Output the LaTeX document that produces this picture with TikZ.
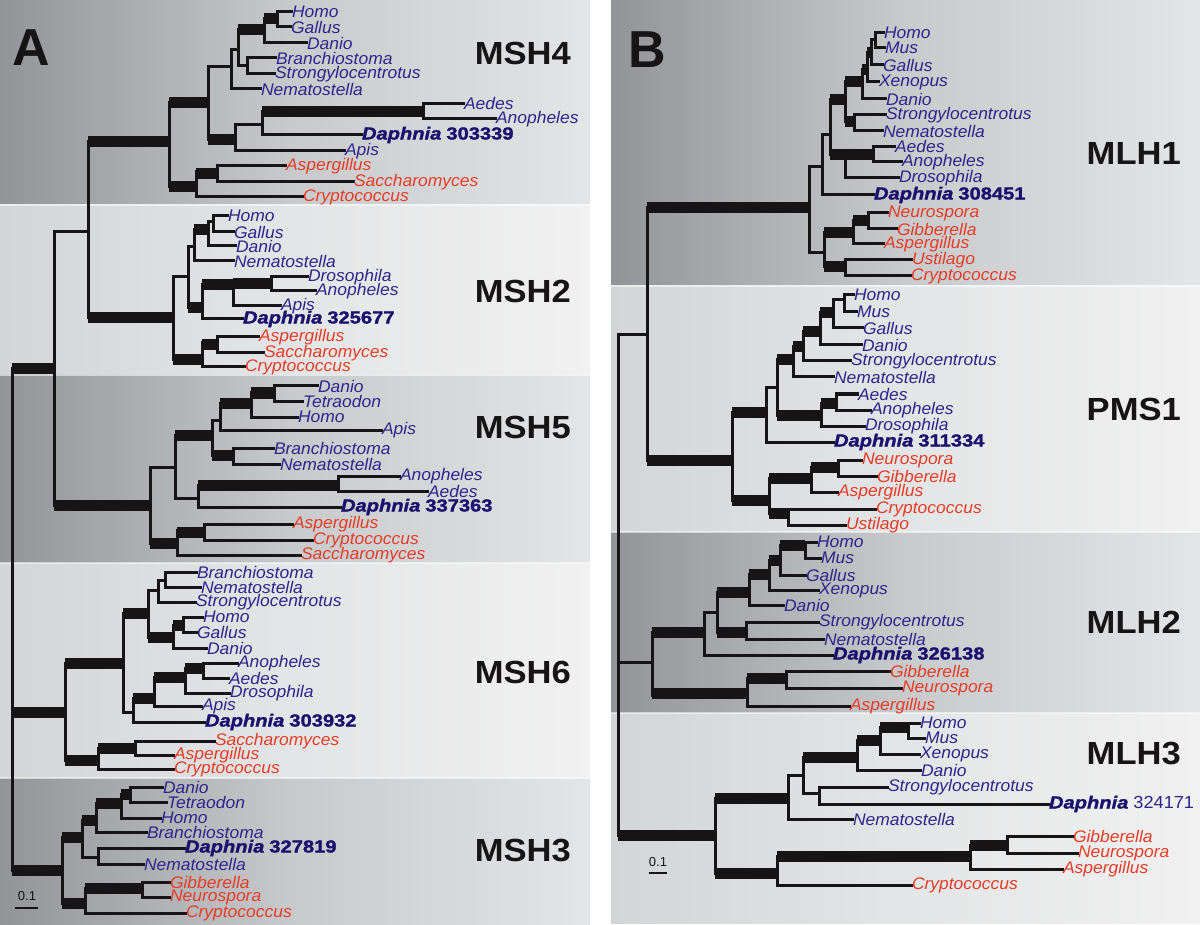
\documentclass[tikz,border=0pt]{standalone}
\usepackage{fontspec}
\setmainfont{Liberation Sans}
\newfontfamily\labfam[FakeStretch=1.04]{Liberation Sans}
\newfontfamily\dapfam[FakeStretch=1.15,FakeBold=1.5]{Liberation Sans}
\newfontfamily\cladefam[FakeStretch=1.08]{Liberation Sans}
\definecolor{blu}{RGB}{48,36,140}
\definecolor{dblu}{RGB}{28,16,110}
\definecolor{fred}{RGB}{232,60,40}
\definecolor{ink}{RGB}{22,20,20}
\definecolor{dkL}{RGB}{146,148,151}
\definecolor{dkM}{RGB}{200,202,204}
\definecolor{dkR}{RGB}{228,229,230}
\definecolor{ltL}{RGB}{212,213,215}
\definecolor{ltM}{RGB}{228,229,230}
\definecolor{ltR}{RGB}{241,241,241}
\tikzset{
 tn/.style={draw=ink,line width=3pt,line cap=rect},
 tk/.style={draw=ink,line width=11pt},
 lab/.style={anchor=west,inner sep=0.8pt,font=\labfam\itshape\fontsize{16.8}{16.8}\selectfont},
 an/.style={lab,text=blu},
 fg/.style={lab,text=fred},
 dp/.style={anchor=west,inner sep=0.8pt,text=dblu,font=\dapfam\fontsize{17.5}{17.5}\selectfont},
 clade/.style={anchor=east,inner sep=0pt,text=ink,font=\cladefam\bfseries\fontsize{32}{32}\selectfont},
 panel/.style={inner sep=0pt,text=ink,font=\bfseries\fontsize{52}{52}\selectfont},
 scl/.style={inner sep=0pt,text=ink,font=\fontsize{13}{13}\selectfont},
 darkband/.style={left color=dkL,right color=dkR,middle color=dkM},
 lightband/.style={left color=ltL,right color=ltR,middle color=ltM},
 sep/.style={draw=white,line width=1.5pt,opacity=0.55},
}
\newcommand\trV[3]{\draw[tn] (#1,#2) -- (#1,#3);}
\newcommand\trH[4][tn]{\draw[#1] (#2,#4) -- (#3,#4);}
\newcommand\trL[6][an]{\node[#1] (#2) at (#5,#4) {#6}; \draw[tn] (#3,#4) -- (#2.west);}
\newcommand\dap[1]{{\bfseries\itshape Daphnia}\hspace{5pt}{\bfseries #1}}
\newcommand\dapr[1]{{\bfseries\itshape Daphnia}\hspace{5pt}{\labfam\color{blu}#1}}
\begin{document}
\begin{tikzpicture}[x=1pt,y=-1pt]
\useasboundingbox (0,0) rectangle (1200,925);
\fill[white] (0,0) rectangle (1200,925);
% panel A bands
\shade[darkband] (0,0) rectangle (590,205);
\shade[lightband] (0,205) rectangle (590,375);
\shade[darkband] (0,375) rectangle (590,563);
\shade[lightband] (0,563) rectangle (590,778);
\shade[darkband] (0,778) rectangle (590,925);
% panel B bands
\shade[darkband] (611,1) rectangle (1200,286);
\shade[lightband] (611,286) rectangle (1200,532);
\shade[darkband] (611,532) rectangle (1200,713);
\shade[lightband] (611,713) rectangle (1200,923);
\foreach \yy in {205,375,563,778} {\draw[sep] (0,\yy) -- (590,\yy);}
\foreach \yy in {286,532,713} {\draw[sep] (611,\yy) -- (1200,\yy);}

% labels
\node[panel] (pA) at (31,48) {A};
\node[panel] (pB) at (647,50) {B};
\node[clade] (cMSH4) at (571,53) {MSH4};
\node[clade] (cMSH2) at (571,291) {MSH2};
\node[clade] (cMSH5) at (571,427) {MSH5};
\node[clade] (cMSH6) at (571,672) {MSH6};
\node[clade] (cMSH3) at (571,851) {MSH3};
\node[clade] (cMLH1) at (1181,153) {MLH1};
\node[clade] (cPMS1) at (1181,409) {PMS1};
\node[clade] (cMLH2) at (1181,622) {MLH2};
\node[clade] (cMLH3) at (1181,754) {MLH3};
\node[scl] (sA) at (27,896) {0.1};
\draw[ink,line width=1.2pt] (15,908) -- (38,908);
\node[scl] (sB) at (658,862) {0.1};
\draw[ink,line width=1.2pt] (649,873) -- (667,873);

% ===== Panel A backbone
\trV{12}{369}{870}
\trH[tk]{12}{54}{369}
\trH[tk]{12}{65}{712}
\trH[tk]{12}{62}{870}
\trV{54}{232}{505}
\trH{54}{88}{232}
\trH[tk]{54}{150}{505}
\trV{88}{142}{318}
\trH[tk]{88}{169}{142}
\trH[tk]{88}{173}{318}

% ===== MSH4
\trV{169}{103}{187}
\trH[tk]{169}{208}{103}
\trH[tk]{169}{196}{187}
\trV{208}{67}{140}
\trH{208}{231}{67}
\trH[tk]{208}{235}{140}
\trV{231}{50}{89}
\trH{231}{238}{50}
\trL[an]{m4nem}{231}{89}{260}{Nematostella}
\trV{238}{30}{66}
\trH[tk]{238}{264}{30}
\trH{238}{247}{66}
\trV{264}{19}{43}
\trH[tk]{264}{277}{19}
\trL[an]{m4dan}{264}{43}{306}{Danio}
\trV{277}{12}{27}
\trL[an]{m4hom}{277}{12}{291}{Homo}
\trL[an]{m4gal}{277}{27}{290}{Gallus}
\trV{247}{58}{74}
\trL[an]{m4bra}{247}{58}{275}{Branchiostoma}
\trL[an]{m4str}{247}{74}{274}{Strongylocentrotus}
\trV{235}{125}{151}
\trH{235}{262}{125}
\trL[an]{m4api}{235}{151}{344}{Apis}
\trV{262}{112}{135}
\trH[tk]{262}{423}{112}
\trL[dp]{m4dap}{262}{135}{361}{\dap{303339}}
\trV{423}{104}{119}
\trL[an]{m4aed}{423}{104}{463}{Aedes}
\trL[an]{m4ano}{423}{119}{495}{Anopheles}
\trV{196}{172}{197}
\trH[tk]{196}{217}{174}
\trL[fg]{m4cry}{196}{197}{302}{Cryptococcus}
\trV{217}{166}{182}
\trL[fg]{m4asp}{217}{166}{285}{Aspergillus}
\trL[fg]{m4sac}{217}{182}{353}{Saccharomyces}

% ===== MSH2
\trV{173}{277}{360}
\trH{173}{188}{277}
\trH[tk]{173}{202}{360}
\trV{188}{247}{308}
\trH{188}{194}{247}
\trH[tk]{188}{202}{308}
\trV{194}{230}{261}
\trH[tk]{194}{208}{230}
\trL[an]{m2nem}{194}{261}{233}{Nematostella}
\trV{208}{222}{246}
\trH{208}{213}{222}
\trL[an]{m2dan}{208}{246}{235}{Danio}
\trV{213}{216}{232}
\trL[an]{m2hom}{213}{216}{227}{Homo}
\trL[an]{m2gal}{213}{232}{233}{Gallus}
\trV{202}{285}{319}
\trH[tk]{202}{233}{285}
\trL[dp]{m2dap}{202}{319}{242}{\dap{325677}}
\trV{233}{284}{306}
\trH[tk]{233}{271}{284}
\trL[an]{m2api}{233}{306}{280}{Apis}
\trV{271}{277}{291}
\trL[an]{m2dro}{271}{277}{307}{Drosophila}
\trL[an]{m2ano}{271}{291}{315}{Anopheles}
\trV{202}{343}{367}
\trH[tk]{202}{217}{345}
\trL[fg]{m2cry}{202}{367}{244}{Cryptococcus}
\trV{217}{337}{353}
\trL[fg]{m2asp}{217}{337}{258}{Aspergillus}
\trL[fg]{m2sac}{217}{353}{263}{Saccharomyces}

% ===== MSH5
\trV{150}{467}{543}
\trH{150}{175}{467}
\trH[tk]{150}{177}{543}
\trV{175}{435}{498}
\trH[tk]{175}{212}{435}
\trH{175}{198}{498}
\trV{212}{420}{455}
\trH{212}{220}{420}
\trH[tk]{212}{233}{455}
\trV{220}{403}{430}
\trH[tk]{220}{251}{403}
\trL[an]{m5api}{220}{430}{381}{Apis}
\trV{251}{393}{417}
\trH[tk]{251}{274}{393}
\trL[an]{m5hom}{251}{417}{297}{Homo}
\trV{274}{386}{401}
\trL[an]{m5dan}{274}{386}{317}{Danio}
\trL[an]{m5tet}{274}{401}{302}{Tetraodon}
\trV{233}{448}{464}
\trL[an]{m5bra}{233}{448}{273}{Branchiostoma}
\trL[an]{m5nem}{233}{464}{279}{Nematostella}
\trV{198}{485}{507}
\trH[tk]{198}{338}{485}
\trL[dp]{m5dap}{198}{507}{340}{\dap{337363}}
\trV{338}{476}{491}
\trL[an]{m5ano}{338}{476}{399}{Anopheles}
\trL[an]{m5aed}{338}{491}{427}{Aedes}
\trV{177}{530}{555}
\trH[tk]{177}{204}{532}
\trL[fg]{m5sac}{177}{555}{300}{Saccharomyces}
\trV{204}{524}{540}
\trL[fg]{m5asp}{204}{524}{292}{Aspergillus}
\trL[fg]{m5cry}{204}{540}{312}{Cryptococcus}

% ===== MSH6
\trV{65}{663}{760}
\trH[tk]{65}{123}{663}
\trH[tk]{65}{98}{760}
\trV{123}{613}{712}
\trH[tk]{123}{148}{613}
\trH{123}{133}{712}
\trV{148}{590}{637}
\trH{148}{158}{590}
\trH[tk]{148}{173}{637}
\trV{158}{580}{602}
\trH{158}{165}{580}
\trL[an]{m6str}{158}{602}{195}{Strongylocentrotus}
\trV{165}{572}{587}
\trL[an]{m6bra}{165}{572}{196}{Branchiostoma}
\trL[an]{m6nem}{165}{587}{200}{Nematostella}
\trV{173}{625}{648}
\trH[tk]{173}{183}{625}
\trL[an]{m6dan}{173}{648}{206}{Danio}
\trV{183}{617}{632}
\trL[an]{m6hom}{183}{617}{202}{Homo}
\trL[an]{m6gal}{183}{632}{196}{Gallus}
\trV{133}{698}{722}
\trH[tk]{133}{154}{698}
\trL[dp]{m6dap}{133}{722}{204}{\dap{303932}}
\trV{154}{677}{706}
\trH[tk]{154}{185}{677}
\trL[an]{m6api}{154}{706}{201}{Apis}
\trV{185}{668}{693}
\trH[tk]{185}{203}{668}
\trL[an]{m6dro}{185}{693}{229}{Drosophila}
\trV{203}{663}{678}
\trL[an]{m6ano}{203}{663}{237}{Anopheles}
\trL[an]{m6aed}{203}{678}{228}{Aedes}
\trV{98}{748}{769}
\trH[tk]{98}{135}{748}
\trL[fg]{m6cry}{98}{769}{173}{Cryptococcus}
\trV{135}{741}{755}
\trL[fg]{m6sac}{135}{741}{214}{Saccharomyces}
\trL[fg]{m6asp}{135}{755}{173}{Aspergillus}

% ===== MSH3
\trV{62}{837}{903}
\trH[tk]{62}{82}{837}
\trH[tk]{62}{85}{903}
\trV{82}{820}{857}
\trH[tk]{82}{96}{820}
\trH{82}{98}{857}
\trV{96}{803}{832}
\trH[tk]{96}{121}{803}
\trL[an]{m3bra}{96}{832}{146}{Branchiostoma}
\trV{121}{794}{818}
\trH[tk]{121}{130}{794}
\trL[an]{m3hom}{121}{818}{160}{Homo}
\trV{130}{787}{802}
\trL[an]{m3dan}{130}{787}{162}{Danio}
\trL[an]{m3tet}{130}{802}{166}{Tetraodon}
\trV{98}{848}{864}
\trL[dp]{m3dap}{98}{848}{184}{\dap{327819}}
\trL[an]{m3nem}{98}{864}{143}{Nematostella}
\trV{85}{888}{913}
\trH[tk]{85}{142}{888}
\trL[fg]{m3cry}{85}{913}{185}{Cryptococcus}
\trV{142}{882}{897}
\trL[fg]{m3gib}{142}{882}{169}{Gibberella}
\trL[fg]{m3neu}{142}{897}{169}{Neurospora}

% ===== Panel B backbone
\trV{618}{335}{835}
\trH{618}{647}{335}
\trH{618}{652}{662}
\trH[tk]{618}{715}{835}
\trV{647}{208}{460}
\trH[tk]{647}{809}{208}
\trH[tk]{647}{732}{460}

% ===== MLH1
\trV{809}{167}{253}
\trH{809}{822}{167}
\trH{809}{824}{253}
\trV{822}{135}{195}
\trH{822}{830}{135}
\trL[dp]{l1dap}{822}{195}{873}{\dap{308451}}
\trV{830}{100}{155}
\trH[tk]{830}{845}{100}
\trV{845}{82}{122}
\trH[tk]{845}{862}{82}
\trH[tk]{845}{854}{122}
\trV{854}{115}{131}
\trL[an]{l1str}{854}{115}{885}{Strongylocentrotus}
\trL[an]{l1nem}{854}{131}{882}{Nematostella}
\trV{862}{70}{99}
\trH[tk]{862}{867}{70}
\trL[an]{l1dan}{862}{99}{885}{Danio}
\trV{867}{53}{82}
\trH[tk]{867}{871}{53}
\trL[an]{l1xen}{867}{82}{878}{Xenopus}
\trV{871}{40}{65}
\trH{871}{875}{40}
\trL[an]{l1gal}{871}{65}{882}{Gallus}
\trV{875}{33}{48}
\trL[an]{l1hom}{875}{33}{883}{Homo}
\trL[an]{l1mus}{875}{48}{884}{Mus}
\trH[tk]{830}{845}{155}
\trV{845}{155}{178}
\trH[tk]{845}{873}{155}
\trV{873}{147}{162}
\trL[an]{l1aed}{873}{147}{894}{Aedes}
\trL[an]{l1ano}{873}{162}{901}{Anopheles}
\trL[an]{l1dro}{845}{178}{898}{Drosophila}
\trV{824}{233}{267}
\trH[tk]{824}{853}{233}
\trH[tk]{824}{845}{267}
\trV{853}{221}{244}
\trH[tk]{853}{868}{221}
\trL[fg]{l1asp}{853}{244}{883}{Aspergillus}
\trV{868}{213}{229}
\trL[fg]{l1neu}{868}{213}{887}{Neurospora}
\trL[fg]{l1gib}{868}{229}{896}{Gibberella}
\trV{845}{260}{276}
\trL[fg]{l1ust}{845}{260}{911}{Ustilago}
\trL[fg]{l1cry}{845}{276}{910}{Cryptococcus}

% ===== PMS1
\trV{732}{412}{500}
\trH[tk]{732}{766}{412}
\trH[tk]{732}{769}{500}
\trV{766}{388}{442}
\trH{766}{777}{388}
\trL[dp]{p1dap}{766}{442}{833}{\dap{311334}}
\trV{777}{360}{415}
\trH[tk]{777}{793}{360}
\trH[tk]{777}{821}{415}
\trV{821}{403}{426}
\trH[tk]{821}{836}{403}
\trL[an]{p1dro}{821}{426}{864}{Drosophila}
\trV{836}{394}{410}
\trL[an]{p1aed}{836}{394}{857}{Aedes}
\trL[an]{p1ano}{836}{410}{870}{Anopheles}
\trV{793}{347}{377}
\trH[tk]{793}{803}{347}
\trL[an]{p1nem}{793}{377}{833}{Nematostella}
\trV{803}{332}{361}
\trH[tk]{803}{820}{332}
\trL[an]{p1str}{803}{361}{850}{Strongylocentrotus}
\trV{820}{313}{345}
\trH[tk]{820}{833}{313}
\trL[an]{p1dan}{820}{345}{861}{Danio}
\trV{833}{300}{328}
\trH{833}{844}{300}
\trL[an]{p1gal}{833}{328}{862}{Gallus}
\trV{844}{295}{312}
\trL[an]{p1hom}{844}{295}{853}{Homo}
\trL[an]{p1mus}{844}{312}{856}{Mus}
\trV{769}{478}{513}
\trH[tk]{769}{811}{478}
\trH[tk]{769}{788}{513}
\trV{811}{467}{492}
\trH[tk]{811}{838}{467}
\trL[fg]{p1asp}{811}{492}{837}{Aspergillus}
\trV{838}{460}{476}
\trL[fg]{p1neu}{838}{460}{861}{Neurospora}
\trL[fg]{p1gib}{838}{476}{876}{Gibberella}
\trV{788}{509}{525}
\trL[fg]{p1cry}{788}{509}{875}{Cryptococcus}
\trL[fg]{p1ust}{788}{525}{845}{Ustilago}

% ===== MLH2
\trV{652}{632}{695}
\trH[tk]{652}{704}{632}
\trH[tk]{652}{747}{693}
\trV{704}{612}{655}
\trH{704}{717}{612}
\trL[dp]{l2dap}{704}{655}{832}{\dap{326138}}
\trV{717}{592}{632}
\trH[tk]{717}{749}{592}
\trH[tk]{717}{746}{632}
\trV{746}{622}{639}
\trL[an]{l2str}{746}{622}{818}{Strongylocentrotus}
\trL[an]{l2nem}{746}{639}{823}{Nematostella}
\trV{749}{574}{605}
\trH[tk]{749}{769}{574}
\trL[an]{l2dan}{749}{605}{783}{Danio}
\trV{769}{560}{590}
\trH[tk]{769}{780}{560}
\trL[an]{l2xen}{769}{590}{818}{Xenopus}
\trV{780}{545}{575}
\trH[tk]{780}{805}{545}
\trL[an]{l2gal}{780}{575}{805}{Gallus}
\trV{805}{542}{558}
\trL[an]{l2hom}{805}{542}{816}{Homo}
\trL[an]{l2mus}{805}{558}{820}{Mus}
\trV{747}{678}{706}
\trH[tk]{747}{786}{678}
\trL[fg]{l2asp}{747}{706}{849}{Aspergillus}
\trV{786}{671}{688}
\trL[fg]{l2gib}{786}{671}{889}{Gibberella}
\trL[fg]{l2neu}{786}{688}{901}{Neurospora}

% ===== MLH3
\trV{715}{798}{873}
\trH[tk]{715}{788}{798}
\trH[tk]{715}{777}{873}
\trV{788}{775}{819}
\trH{788}{803}{775}
\trL[an]{l3nem}{788}{819}{852}{Nematostella}
\trV{803}{757}{793}
\trH[tk]{803}{857}{757}
\trH{803}{819}{793}
\trV{819}{787}{804}
\trL[an]{l3str}{819}{787}{887}{Strongylocentrotus}
\trL[dp]{l3dap}{819}{804}{1048}{\dapr{324171}}
\trV{857}{740}{770}
\trH[tk]{857}{880}{740}
\trL[an]{l3dan}{857}{770}{920}{Danio}
\trV{880}{727}{754}
\trH[tk]{880}{908}{727}
\trL[an]{l3xen}{880}{754}{919}{Xenopus}
\trV{908}{723}{738}
\trL[an]{l3hom}{908}{723}{919}{Homo}
\trL[an]{l3mus}{908}{738}{924}{Mus}
\trV{777}{856}{885}
\trH[tk]{777}{970}{856}
\trL[fg]{l3cry}{777}{885}{911}{Cryptococcus}
\trV{970}{845}{869}
\trH[tk]{970}{1007}{845}
\trL[fg]{l3asp}{970}{869}{1062}{Aspergillus}
\trV{1007}{836}{853}
\trL[fg]{l3gib}{1007}{836}{1072}{Gibberella}
\trL[fg]{l3neu}{1007}{853}{1077}{Neurospora}
\end{tikzpicture}
\end{document}
